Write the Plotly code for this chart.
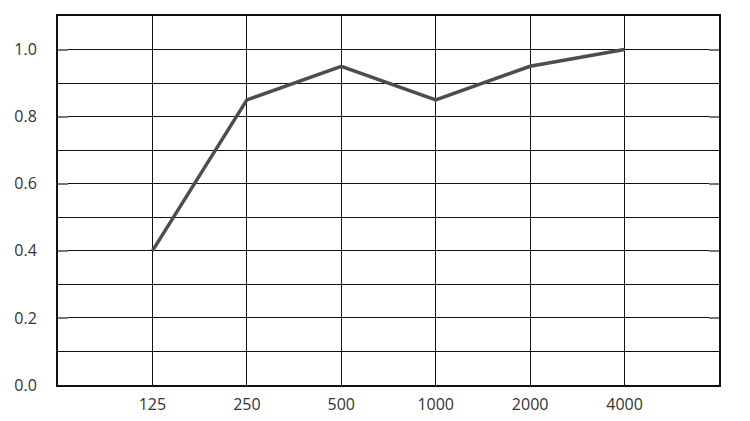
import plotly.graph_objects as go

# octave band centre frequencies (Hz) and absorption coefficient
freq_labels = ["125", "250", "500", "1000", "2000", "4000"]
alpha = [0.40, 0.85, 0.95, 0.85, 0.95, 1.00]
y_ticks = [0.0, 0.2, 0.4, 0.6, 0.8, 1.0]
y_tick_text = ["0.0", "0.2", "0.4", "0.6", "0.8", "1.0"]

xs = list(range(len(freq_labels)))

fig = go.Figure()
fig.add_trace(go.Scatter(
    x=xs, y=alpha, mode="lines",
    line=dict(color="#4d4d4d", width=3.5),
    hoverinfo="skip", showlegend=False))

# page body has an 8px margin, so the figure is a little smaller than the window
fig.update_layout(
    width=742, height=413,
    margin=dict(l=50, r=31, t=8, b=36, autoexpand=False),
    paper_bgcolor="white", plot_bgcolor="white",
    font=dict(family="Open Sans, DejaVu Sans, sans-serif", size=16, color="#333333"),
)
fig.update_xaxes(
    range=[-1, 6], tickvals=xs, ticktext=freq_labels, automargin=False,
    showgrid=True, gridcolor="#111111", gridwidth=1,
    zeroline=False, showline=True, linecolor="#111111", linewidth=2,
    mirror=True, ticks="", ticklabelstandoff=4)
fig.update_yaxes(
    range=[0, 1.1], tickvals=y_ticks, ticktext=y_tick_text, automargin=False,
    showgrid=True, gridcolor="#111111", gridwidth=1,
    minor=dict(dtick=0.1, showgrid=True, gridcolor="#111111", gridwidth=1, ticks=""),
    zeroline=False, showline=True, linecolor="#111111", linewidth=2,
    mirror="ticks", ticks="inside", ticklen=10, tickcolor="#777777", tickwidth=2,
    ticklabelstandoff=16)

fig.write_html("out.html")
